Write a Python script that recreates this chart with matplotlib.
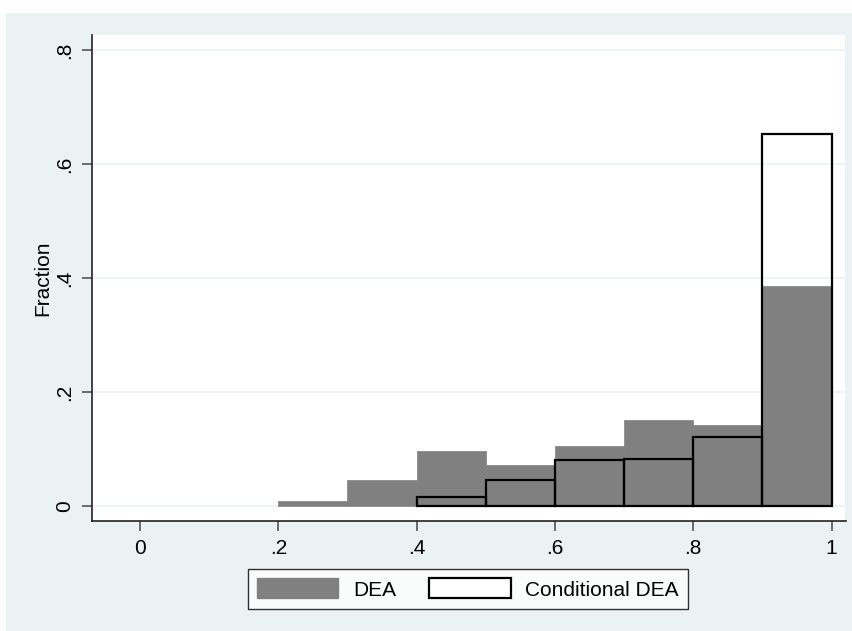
import numpy as np
import matplotlib
matplotlib.use('Agg')
import matplotlib.pyplot as plt
from matplotlib.patches import Rectangle, Patch

plt.rcParams['font.family'] = ['Liberation Sans', 'DejaVu Sans']

# histogram bins (left edges) and fractions
dea_bins = [0.2, 0.3, 0.4, 0.5, 0.6, 0.7, 0.8, 0.9]
dea_frac = [0.009, 0.045, 0.096, 0.072, 0.106, 0.150, 0.142, 0.386]
cdea_bins = [0.4, 0.5, 0.6, 0.7, 0.8, 0.9]
cdea_frac = [0.015, 0.046, 0.080, 0.083, 0.121, 0.653]
bin_width = 0.1

x_ticks = [0, 0.2, 0.4, 0.6, 0.8, 1.0]
x_labels = ['0', '.2', '.4', '.6', '.8', '1']
y_ticks = [0, 0.2, 0.4, 0.6, 0.8]
y_labels = ['0', '.2', '.4', '.6', '.8']

BG = '#EAF2F3'
GRAY = '#808080'
W, H = 853, 631

fig = plt.figure(figsize=(W / 100, H / 100), dpi=100)
fig.patch.set_facecolor('white')
fig.patches.append(Rectangle((6 / W, 0), 1 - 6 / W, 1 - 13 / H,
                             transform=fig.transFigure, facecolor=BG,
                             edgecolor='none', zorder=-10))

ax = fig.add_axes([92 / W, 1 - 520.7 / H, (845.5 - 92) / W, (520.7 - 35) / H])
ax.set_facecolor('white')

for y in y_ticks:
    ax.axhline(y, color=BG, lw=1.2, zorder=0)

ax.bar(dea_bins, dea_frac, width=bin_width, align='edge',
       color=GRAY, edgecolor=GRAY, lw=0.5, zorder=2, label='DEA')
ax.bar(cdea_bins, cdea_frac, width=bin_width, align='edge',
       facecolor='none', edgecolor='black', lw=1.6, zorder=3,
       label='Conditional DEA')

ax.set_xlim(-0.0694, 1.0202)
ax.set_ylim(-0.0258, 0.8263)

ax.set_xticks(x_ticks)
ax.set_xticklabels(x_labels, fontsize=15)
ax.set_yticks(y_ticks)
ax.set_yticklabels(y_labels, fontsize=15, rotation=90, va='center')
ax.tick_params(axis='both', direction='out', length=7, width=1.2,
               color='#555555', pad=6)
ax.set_ylabel('Fraction', fontsize=15, labelpad=2)

for s in ['top', 'right']:
    ax.spines[s].set_visible(False)
for s in ['left', 'bottom']:
    ax.spines[s].set_color('#222222')
    ax.spines[s].set_linewidth(1.2)

handles = [Patch(facecolor=GRAY, edgecolor=GRAY),
           Patch(facecolor='white', edgecolor='black', lw=1.6)]
leg = fig.legend(handles, ['DEA', 'Conditional DEA'], loc='center',
                 bbox_to_anchor=(468 / W, 1 - 589 / H), ncol=2,
                 fontsize=15, frameon=True, fancybox=False,
                 handlelength=3.9, handleheight=1.1, handletextpad=0.7,
                 columnspacing=1.6, borderpad=0.45, borderaxespad=0)
leg.get_frame().set_edgecolor('black')
leg.get_frame().set_linewidth(1.0)

fig.savefig('out.png', dpi=100, facecolor=fig.get_facecolor())
